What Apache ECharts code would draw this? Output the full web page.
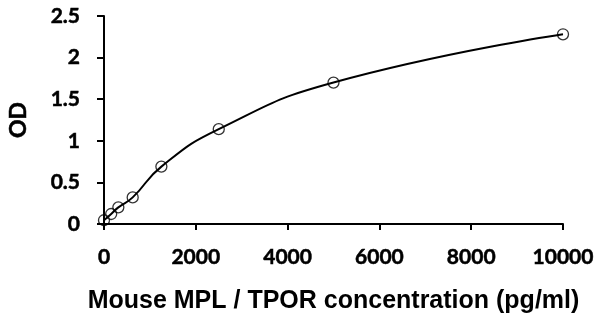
<!DOCTYPE html>
<html>
<head>
<meta charset="utf-8">
<script src="https://cdn.jsdelivr.net/npm/echarts@6/dist/echarts.min.js"></script>
<style>
  html, body { margin: 0; padding: 0; background: #fff; }
  #chart { width: 599px; height: 329px; }
</style>
</head>
<body>
<div id="chart"></div>
<script>
const concentrations = [0, 156.25, 312.5, 625, 1250, 2500, 5000, 10000];
const odValues = [0.045, 0.12, 0.2, 0.32, 0.69, 1.14, 1.7, 2.28];
const xTitle = "Mouse MPL / TPOR concentration (pg/ml)";
const yTitle = "OD";

const points = concentrations.map((c, i) => [c, odValues[i]]);
const labelFont = "Lato, 'Open Sans', sans-serif";
const titleFont = "'Liberation Sans', Arial, sans-serif";

const chart = echarts.init(document.getElementById("chart"));

// bold labels, slightly thickened to look like the heavier original face
const labelStyle = {
  color: "#000", fontFamily: labelFont, fontWeight: "bold", fontSize: 21,
  textBorderColor: "#000", textBorderWidth: 0.5
};

chart.setOption({
  animation: false,
  grid: {
    left: 104, right: 36, top: 16, bottom: 105,
    containLabel: false,
    outerBoundsMode: "none"
  },
  xAxis: {
    type: "value",
    min: 0,
    max: 10000,
    interval: 2000,
    name: xTitle,
    nameLocation: "middle",
    nameGap: 65,
    nameTextStyle: { color: "#000", fontFamily: titleFont, fontWeight: "bold", fontSize: 25 },
    axisLine: { onZero: false, lineStyle: { color: "#000", width: 2 } },
    axisTick: { show: true, length: 6, lineStyle: { color: "#000", width: 2 } },
    axisLabel: Object.assign({ margin: 23, formatter: (v) => String(v) }, labelStyle),
    splitLine: { show: false }
  },
  yAxis: {
    type: "value",
    min: 0,
    max: 2.5,
    interval: 0.5,
    name: yTitle,
    nameLocation: "middle",
    nameGap: 74,
    nameRotate: 90,
    nameTextStyle: Object.assign({}, labelStyle, { fontSize: 23 }),
    axisLine: { show: true, lineStyle: { color: "#000", width: 2 } },
    axisTick: { show: true, length: 7, lineStyle: { color: "#000", width: 2 } },
    axisLabel: Object.assign({ margin: 24, formatter: (v) => String(v) }, labelStyle),
    splitLine: { show: false }
  },
  series: [
    {
      type: "line",
      data: points,
      smooth: 0.5,
      showSymbol: false,
      lineStyle: { color: "#000", width: 2 },
      z: 2
    },
    {
      type: "scatter",
      data: points,
      symbol: "circle",
      symbolSize: 11,
      itemStyle: { color: "rgba(255,255,255,0)", borderColor: "#000", borderWidth: 1.3 },
      z: 3
    }
  ]
});
</script>
</body>
</html>
